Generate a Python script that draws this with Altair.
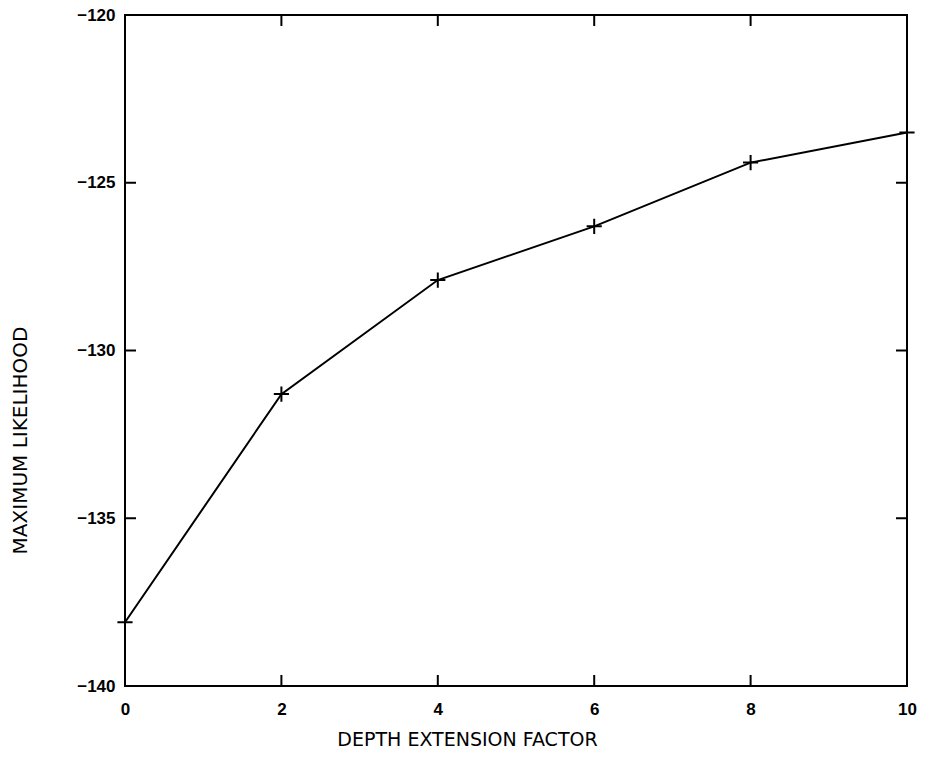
import altair as alt
import pandas as pd

# Data
factor = [0, 2, 4, 6, 8, 10]
likelihood = [-138.1, -131.3, -127.9, -126.3, -124.4, -123.5]
x_tick_values = [0, 2, 4, 6, 8, 10]
y_tick_values = [-140, -135, -130, -125, -120]
x_inner_ticks = [2, 4, 6, 8]
y_inner_ticks = [-135, -130, -125]

W, H = 782, 671
TICK = 11

df = pd.DataFrame({"factor": factor, "ml": likelihood})
xt = pd.DataFrame({"v": x_inner_ticks})
yt = pd.DataFrame({"v": y_inner_ticks})

xscale = alt.Scale(domain=[0, 10], nice=False, zero=False)
yscale = alt.Scale(domain=[-140, -120], nice=False, zero=False)

x_axis = alt.Axis(
    values=x_tick_values, format="d", ticks=False, domain=False, grid=False,
    labelPadding=15, labelFlush=False, labelOverlap=False,
    labelFont="Liberation Sans", labelFontWeight="bold", labelFontSize=17, labelColor="black",
    title="DEPTH EXTENSION FACTOR", titleFont="DejaVu Sans", titleFontWeight="normal",
    titleFontSize=19, titleColor="black", titleX=342, titleY=53,
    titleBaseline="middle", titleAlign="center", titleAnchor="start",
)
y_axis = alt.Axis(
    values=y_tick_values, format="d", ticks=False, domain=False, grid=False,
    labelPadding=10, labelFlush=False, labelOverlap=False, labelBaseline="middle",
    labelFont="Liberation Sans", labelFontWeight="bold", labelFontSize=17, labelColor="black",
    title="MAXIMUM LIKELIHOOD", titleFont="DejaVu Sans", titleFontWeight="normal",
    titleFontSize=20, titleColor="black", titleX=-105, titleY=425, titleAngle=270,
    titleBaseline="middle", titleAlign="center", titleAnchor="start",
)

line = alt.Chart(df).mark_line(color="black", strokeWidth=2).encode(
    x=alt.X("factor:Q", scale=xscale, axis=x_axis),
    y=alt.Y("ml:Q", scale=yscale, axis=y_axis),
)
points = alt.Chart(df).mark_point(
    shape="M-1,0L1,0M0,-1L0,1", size=230, filled=False, color="black",
    strokeWidth=2, opacity=1,
).encode(
    x=alt.X("factor:Q", scale=xscale),
    y=alt.Y("ml:Q", scale=yscale),
)

bottom_ticks = alt.Chart(xt).mark_rule(color="black", strokeWidth=2).encode(
    x=alt.X("v:Q", scale=xscale), y=alt.value(H), y2=alt.value(H - TICK)
)
top_ticks = alt.Chart(xt).mark_rule(color="black", strokeWidth=2).encode(
    x=alt.X("v:Q", scale=xscale), y=alt.value(0), y2=alt.value(TICK)
)
left_ticks = alt.Chart(yt).mark_rule(color="black", strokeWidth=2).encode(
    y=alt.Y("v:Q", scale=yscale), x=alt.value(0), x2=alt.value(TICK)
)
right_ticks = alt.Chart(yt).mark_rule(color="black", strokeWidth=2).encode(
    y=alt.Y("v:Q", scale=yscale), x=alt.value(W), x2=alt.value(W - TICK)
)

chart = (
    alt.layer(line, points, bottom_ticks, top_ticks, left_ticks, right_ticks)
    .properties(
        width=W, height=H,
        autosize=alt.AutoSizeParams(type="none"),
        padding={"left": 125, "top": 15, "right": 18, "bottom": 81},
        background="white",
    )
    .configure_view(stroke="black", strokeWidth=2)
)

chart.save("out.html", embed_options={"renderer": "svg", "actions": False})
